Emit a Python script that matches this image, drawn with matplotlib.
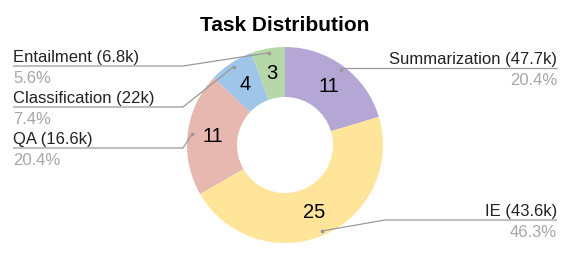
import numpy as np
import matplotlib.pyplot as plt

# task data (order as drawn clockwise from 12 o'clock)
tasks = ['Summarization', 'IE', 'QA', 'Classification', 'Entailment']
counts = [11, 25, 11, 4, 3]
sizes = ['47.7k', '43.6k', '16.6k', '22k', '6.8k']
colors = ['#b4a7d6', '#ffe599', '#e6b8af', '#9fc5e8', '#b6d7a8']

# label layout: side, y of leader line (image px), elbow x (None = straight)
sides = ['right', 'right', 'left', 'left', 'left']
line_y = [68, 220, 148, 107, 66]
elbow_x = [None, 385, 183, 183, 183]

plt.rcParams['font.family'] = ['Liberation Sans', 'DejaVu Sans']

W, H = 570, 254
fig = plt.figure(figsize=(W / 100, H / 100), dpi=100)
ax = fig.add_axes([0, 0, 1, 1])

cx, cy, R = 285, H - 145, 98
ring = 50

wedges, _ = ax.pie(counts, colors=colors, startangle=90, counterclock=False,
                   radius=R, center=(cx, cy),
                   wedgeprops=dict(width=ring, linewidth=0))
ax.set_xlim(0, W)
ax.set_ylim(0, H)
ax.set_aspect('equal')
ax.axis('off')

total = sum(counts)
line_color = '#999999'
for w, name, c, s, side, ly, ex in zip(wedges, tasks, counts, sizes, sides, line_y, elbow_x):
    mid = np.deg2rad((w.theta1 + w.theta2) / 2)
    # value inside the ring
    rr = R - ring / 2
    ax.text(cx + rr * np.cos(mid), cy + rr * np.sin(mid), str(c),
            ha='center', va='center', fontsize=14.5, color='black')

    # leader line to the label
    px = cx + 0.955 * R * np.cos(mid)
    py = cy + 0.955 * R * np.sin(mid)
    y = H - ly
    if side == 'left':
        tx, ha = 13, 'left'
    else:
        tx, ha = 557, 'right'
    if ex is None:
        ex = px
    ax.plot([tx, ex, px], [y, y, py], color=line_color, lw=0.9,
            solid_capstyle='butt')
    ax.plot(px, py, 'o', ms=1.7, color=line_color)

    ax.text(tx, y + 4, f'{name} ({s})', ha=ha, va='baseline',
            fontsize=12, color='#222222')
    ax.text(tx, y - 17, f'{c / total * 100:.1f}%', ha=ha, va='baseline',
            fontsize=12, color='#a6a6a6')

ax.text(cx, H - 31, 'Task Distribution', ha='center', va='baseline',
        fontsize=15, fontweight='bold', color='black')

fig.savefig('out.png', dpi=100)
